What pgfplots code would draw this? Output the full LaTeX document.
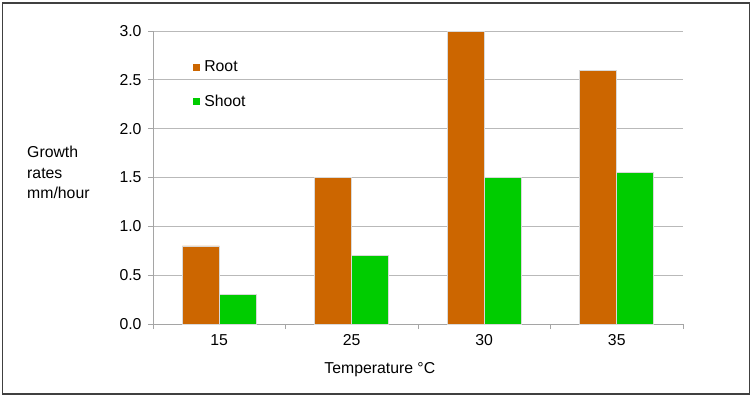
\documentclass[border=0pt]{standalone}
\usepackage{pgfplots}
\pgfplotsset{compat=1.18}
\usepackage{fontspec}
\setmainfont{Liberation Sans}
\definecolor{rootc}{RGB}{204,102,0}
\definecolor{shootc}{RGB}{0,204,0}
\definecolor{gridc}{RGB}{185,185,185}
\definecolor{axc}{RGB}{165,165,165}
\newcommand{\chartfont}{\fontsize{15.8}{19}\selectfont}
\begin{document}
\begin{tikzpicture}[x=1pt,y=1pt]
\path[use as bounding box] (0,0) rectangle (753,397);
\draw[line width=1.3pt, black!75] (2.5,3) rectangle (749.5,394);
\begin{axis}[
  at={(153pt,73pt)}, anchor=south west,
  scale only axis, width=530pt, height=293pt,
  xmin=-0.5, xmax=3.5, ymin=0, ymax=3,
  axis x line*=bottom, axis y line*=left,
  axis line style={axc, line width=0.9pt},
  ybar, bar width=37pt,
  xtick={0,1,2,3}, xticklabels={15,25,30,35},
  major x tick style={draw=none},
  minor xtick={-0.5,0.5,1.5,2.5,3.5},
  minor x tick style={axc, line width=0.9pt},
  ytick={0,0.5,1,1.5,2,2.5,3},
  major y tick style={axc, line width=0.9pt},
  tick align=outside, major tick length=5pt, minor tick length=5pt,
  /pgf/number format/assume math mode=true,
  yticklabel={\pgfmathprintnumber[fixed, fixed zerofill, precision=1]{\tick}},
  ticklabel style={font=\chartfont},
  yticklabel style={xshift=-3pt},
  xticklabel style={yshift=-2pt},
  ymajorgrids, grid style={gridc, line width=0.9pt},
  legend style={draw=none, fill=none, at={(axis description cs:0.07,0.912)}, anchor=north west,
    font=\chartfont, row sep=18pt, /tikz/every odd column/.append style={column sep=2pt}},
  legend cell align=left,
  legend image code/.code={\fill[#1,draw=none] (0pt,-3.5pt) rectangle (7pt,3.5pt);},
  clip=false,
]
\addplot[fill=rootc, draw=white!85!black, line width=0.6pt, bar shift=-18.5pt]
  coordinates {(0,0.8) (1,1.5) (2,3.0) (3,2.6)};
\addplot[fill=shootc, draw=white!85!black, line width=0.6pt, bar shift=18.5pt]
  coordinates {(0,0.3) (1,0.7) (2,1.5) (3,1.55)};
\legend{Root,Shoot}
\node[anchor=north west, align=left, inner sep=0pt, font=\fontsize{15.8}{20.5}\selectfont]
  at (axis description cs:-0.2377,0.6075) {Growth\\rates\\mm/hour};
\node[anchor=base, font=\chartfont] at (axis description cs:0.428,-0.1706) {Temperature °C};
\end{axis}
\end{tikzpicture}
\end{document}
